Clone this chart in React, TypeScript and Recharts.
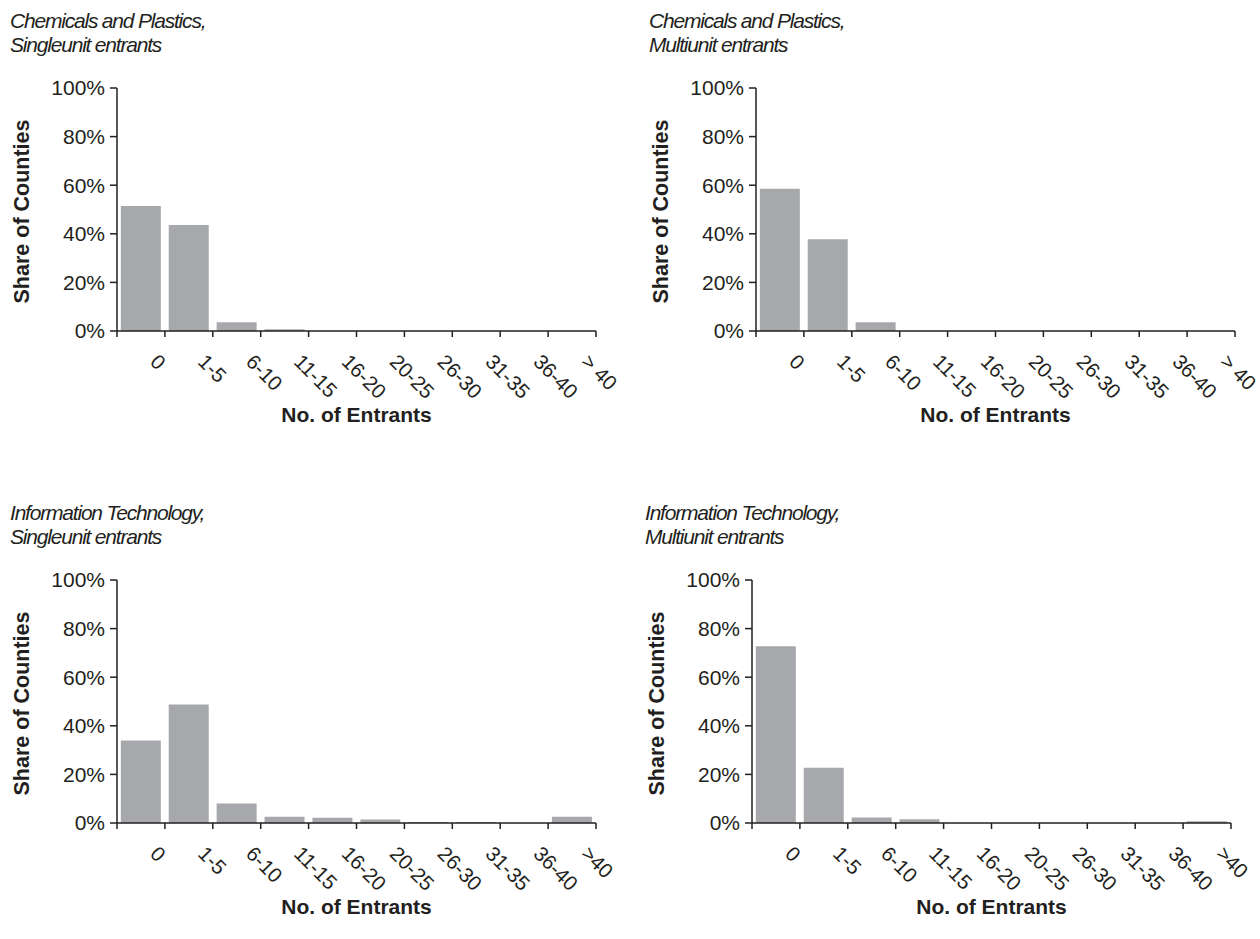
import React from "react"
import { BarChart, Bar, XAxis, YAxis } from "recharts"

const topCategories = ["0", "1-5", "6-10", "11-15", "16-20", "20-25", "26-30", "31-35", "36-40", "> 40"]
const bottomCategories = ["0", "1-5", "6-10", "11-15", "16-20", "20-25", "26-30", "31-35", "36-40", ">40"]

// share of counties, percent
const chemSingle = [51.4, 43.6, 3.6, 0.7, 0, 0, 0, 0, 0, 0]
const chemMulti = [58.5, 37.8, 3.6, 0, 0, 0, 0, 0, 0, 0]
const itSingle = [34.0, 48.8, 8.0, 2.6, 2.2, 1.4, 0.4, 0.4, 0, 2.6]
const itMulti = [72.7, 22.7, 2.3, 1.5, 0, 0, 0, 0, 0, 0.7]

const yTicks = [0, 20, 40, 60, 80, 100]

const INK = "#231f20"
const BAR = "#a7a8ac"
const FONT = "'Liberation Sans', Arial, Helvetica, sans-serif"

interface PanelProps {
  left: number
  top: number
  title: string[]
  categories: string[]
  values: number[]
}

// category label rotated 45deg, plus tick marks on the band edges
const XTick = ({ x, y, payload, index, count }: any) => {
  const half = payload.offset ?? 0
  const tx = x + 8
  const ty = y + 32
  return (
    <g>
      <line x1={x - half} x2={x - half} y1={y} y2={y + 6} stroke={INK} strokeWidth={1.5} />
      {index === count - 1 && (
        <line x1={x + half} x2={x + half} y1={y} y2={y + 6} stroke={INK} strokeWidth={1.5} />
      )}
      <text
        x={tx}
        y={ty}
        transform={`rotate(45, ${tx}, ${ty})`}
        textAnchor="start"
        fill={INK}
        fontSize={20.5}
        fontFamily={FONT}
      >
        {payload.value}
      </text>
    </g>
  )
}

function Panel({ left, top, title, categories, values }: PanelProps) {
  const data = categories.map((c, i) => ({ name: c, share: values[i] }))

  return (
    <div style={{ position: "absolute", left, top, width: 625, height: 460 }}>
      <div
        style={{
          position: "absolute",
          left: 10,
          top: 9,
          fontFamily: FONT,
          fontStyle: "italic",
          fontSize: 21,
          letterSpacing: -1.2,
          lineHeight: "23.5px",
          color: INK,
          whiteSpace: "nowrap",
        }}
      >
        {title.map((t) => (
          <div key={t}>{t}</div>
        ))}
      </div>
      <BarChart
        width={625}
        height={460}
        data={data}
        margin={{ top: 88, right: 29, bottom: 38, left: 17 }}
        barCategoryGap="8%"
      >
        <XAxis
          dataKey="name"
          height={91}
          interval={0}
          axisLine={{ stroke: INK, strokeWidth: 1.5 }}
          tickLine={false}
          tickSize={0}
          tickMargin={0}
          tick={<XTick count={categories.length} />}
          label={(props: any) => {
            const vb = props.viewBox
            return (
              <text
                x={vb.x + vb.width / 2}
                y={vb.y + vb.height}
                textAnchor="middle"
                fill={INK}
                fontSize={21}
                fontWeight="bold"
                fontFamily={FONT}
              >
                No. of Entrants
              </text>
            )
          }}
        />
        <YAxis
          width={100}
          domain={[0, 100]}
          ticks={yTicks}
          interval={0}
          tickFormatter={(v: number) => `${v}%`}
          tickSize={7}
          tickMargin={5}
          tick={{ fill: INK, fontSize: 21, fontFamily: FONT }}
          axisLine={{ stroke: INK, strokeWidth: 1.5 }}
          tickLine={{ stroke: INK, strokeWidth: 1.5 }}
          label={(props: any) => {
            const vb = props.viewBox
            const lx = vb.x + 12
            const ly = vb.y + vb.height / 2 + 2
            return (
              <text
                x={lx}
                y={ly}
                transform={`rotate(-90, ${lx}, ${ly})`}
                textAnchor="middle"
                fill={INK}
                fontSize={21.5}
                fontWeight="bold"
                fontFamily={FONT}
              >
                Share of Counties
              </text>
            )
          }}
        />
        <Bar dataKey="share" fill={BAR} isAnimationActive={false} />
      </BarChart>
    </div>
  )
}

export default function App() {
  return (
    <div style={{ position: "absolute", left: 0, top: 0, width: 1260, height: 939, background: "#fff", overflow: "hidden" }}>
      <Panel
        left={0}
        top={0}
        title={["Chemicals and Plastics,", "Singleunit entrants"]}
        categories={topCategories}
        values={chemSingle}
      />
      <Panel
        left={639}
        top={0}
        title={["Chemicals and Plastics,", "Multiunit entrants"]}
        categories={topCategories}
        values={chemMulti}
      />
      <Panel
        left={0}
        top={492}
        title={["Information Technology,", "Singleunit entrants"]}
        categories={bottomCategories}
        values={itSingle}
      />
      <Panel
        left={635}
        top={492}
        title={["Information Technology,", "Multiunit entrants"]}
        categories={bottomCategories}
        values={itMulti}
      />
    </div>
  )
}
